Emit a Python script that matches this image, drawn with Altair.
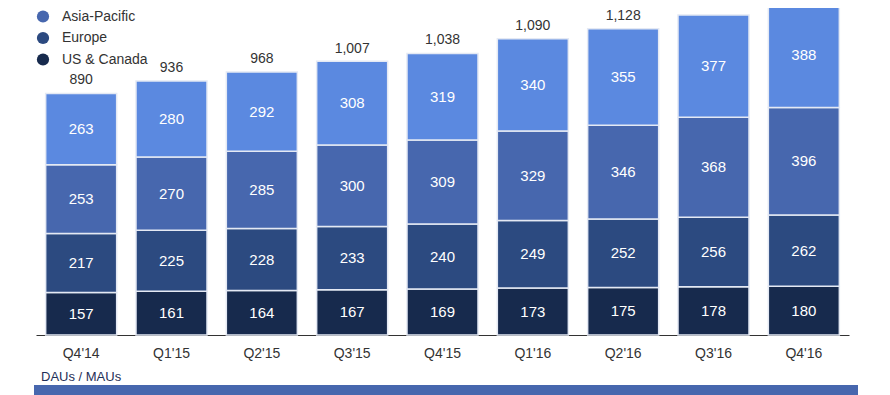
import altair as alt
import pandas as pd

quarters = ["Q4'14", "Q1'15", "Q2'15", "Q3'15", "Q4'15", "Q1'16", "Q2'16", "Q3'16", "Q4'16"]
us_canada = [157, 161, 164, 167, 169, 173, 175, 178, 180]
europe = [217, 225, 228, 233, 240, 249, 252, 256, 262]
asia_pacific = [253, 270, 285, 300, 309, 329, 346, 368, 396]
rest_of_world = [263, 280, 292, 308, 319, 340, 355, 377, 388]
totals_reported = [890, 936, 968, 1007, 1038, 1090, 1128, 1179, 1227]

regions = ["Rest of World", "Asia-Pacific", "Europe", "US & Canada"]
colors = ["#5b89e0", "#4767ae", "#2c4a80", "#172a4d"]
stack_order = {"US & Canada": 0, "Europe": 1, "Asia-Pacific": 2, "Rest of World": 3}

rows = []
for series_name, vals in [("US & Canada", us_canada), ("Europe", europe),
                          ("Asia-Pacific", asia_pacific), ("Rest of World", rest_of_world)]:
    for q, v in zip(quarters, vals):
        rows.append({"quarter": q, "region": series_name, "value": v, "order": stack_order[series_name]})
df = pd.DataFrame(rows)
df_tot = pd.DataFrame({"quarter": quarters, "total": totals_reported})
df_one = pd.DataFrame({"label": ["DAUs / MAUs"]})

FONT = "Liberation Sans"
x_enc = alt.X("quarter:N", sort=quarters,
              scale=alt.Scale(paddingInner=0.214, paddingOuter=0.107),
              axis=alt.Axis(title=None, labelAngle=0, ticks=False, labelPadding=11,
                            labelFontSize=14, labelColor="#333333", labelFont=FONT,
                            domainColor="#333333", domainWidth=1.2, grid=False))
y_scale = alt.Scale(domain=[0, 1234], nice=False)

base = alt.Chart(df)

bars = base.mark_bar(stroke="#e4e9f4", strokeWidth=1.5).encode(
    x=x_enc,
    y=alt.Y("value:Q", stack="zero", scale=y_scale, axis=None),
    color=alt.Color("region:N", scale=alt.Scale(domain=regions, range=colors),
                    legend=alt.Legend(title=None, orient="none", legendX=0, legendY=-12,
                                      symbolType="circle", symbolSize=150, symbolStrokeWidth=0,
                                      labelFontSize=14, labelFont=FONT, labelColor="#333333",
                                      labelOffset=12, rowPadding=7.5, padding=0)),
    order=alt.Order("order:Q", sort="ascending"),
)

seg_labels = base.transform_stack(
    stack="value", groupby=["quarter"], as_=["y0", "y1"], sort=[alt.SortField("order", "ascending")]
).transform_calculate(
    mid="(datum.y0 + datum.y1) / 2"
).mark_text(color="white", fontSize=15, font=FONT).encode(
    x=alt.X("quarter:N", sort=quarters),
    y=alt.Y("mid:Q", scale=y_scale),
    text=alt.Text("value:Q"),
)

totals = alt.Chart(df_tot).mark_text(
    color="#333333", fontSize=14, font=FONT, baseline="bottom", dy=-6
).encode(
    x=alt.X("quarter:N", sort=quarters),
    y=alt.Y("total:Q", scale=y_scale),
    text=alt.Text("total:Q", format=",.0f"),
)

footer_text = alt.Chart(df_one).mark_text(
    align="left", baseline="middle", fontSize=13, font=FONT, color="#1f2f57"
).encode(
    x=alt.value(5), y=alt.value(377), text="label:N"
)
footer_bar = alt.Chart(df_one).mark_rect(color="#4767ae").encode(
    x=alt.value(-2), x2=alt.value(822), y=alt.value(385), y2=alt.value(395)
)

chart = alt.layer(bars, seg_labels, totals, footer_text, footer_bar).properties(
    width=813, height=335,
    autosize=alt.AutoSizeParams(type="none"),
    padding={"left": 28, "top": -8, "right": 30, "bottom": 60},
).configure_view(stroke=None)

chart.save("out.html", embed_options={"renderer": "svg", "actions": False})
